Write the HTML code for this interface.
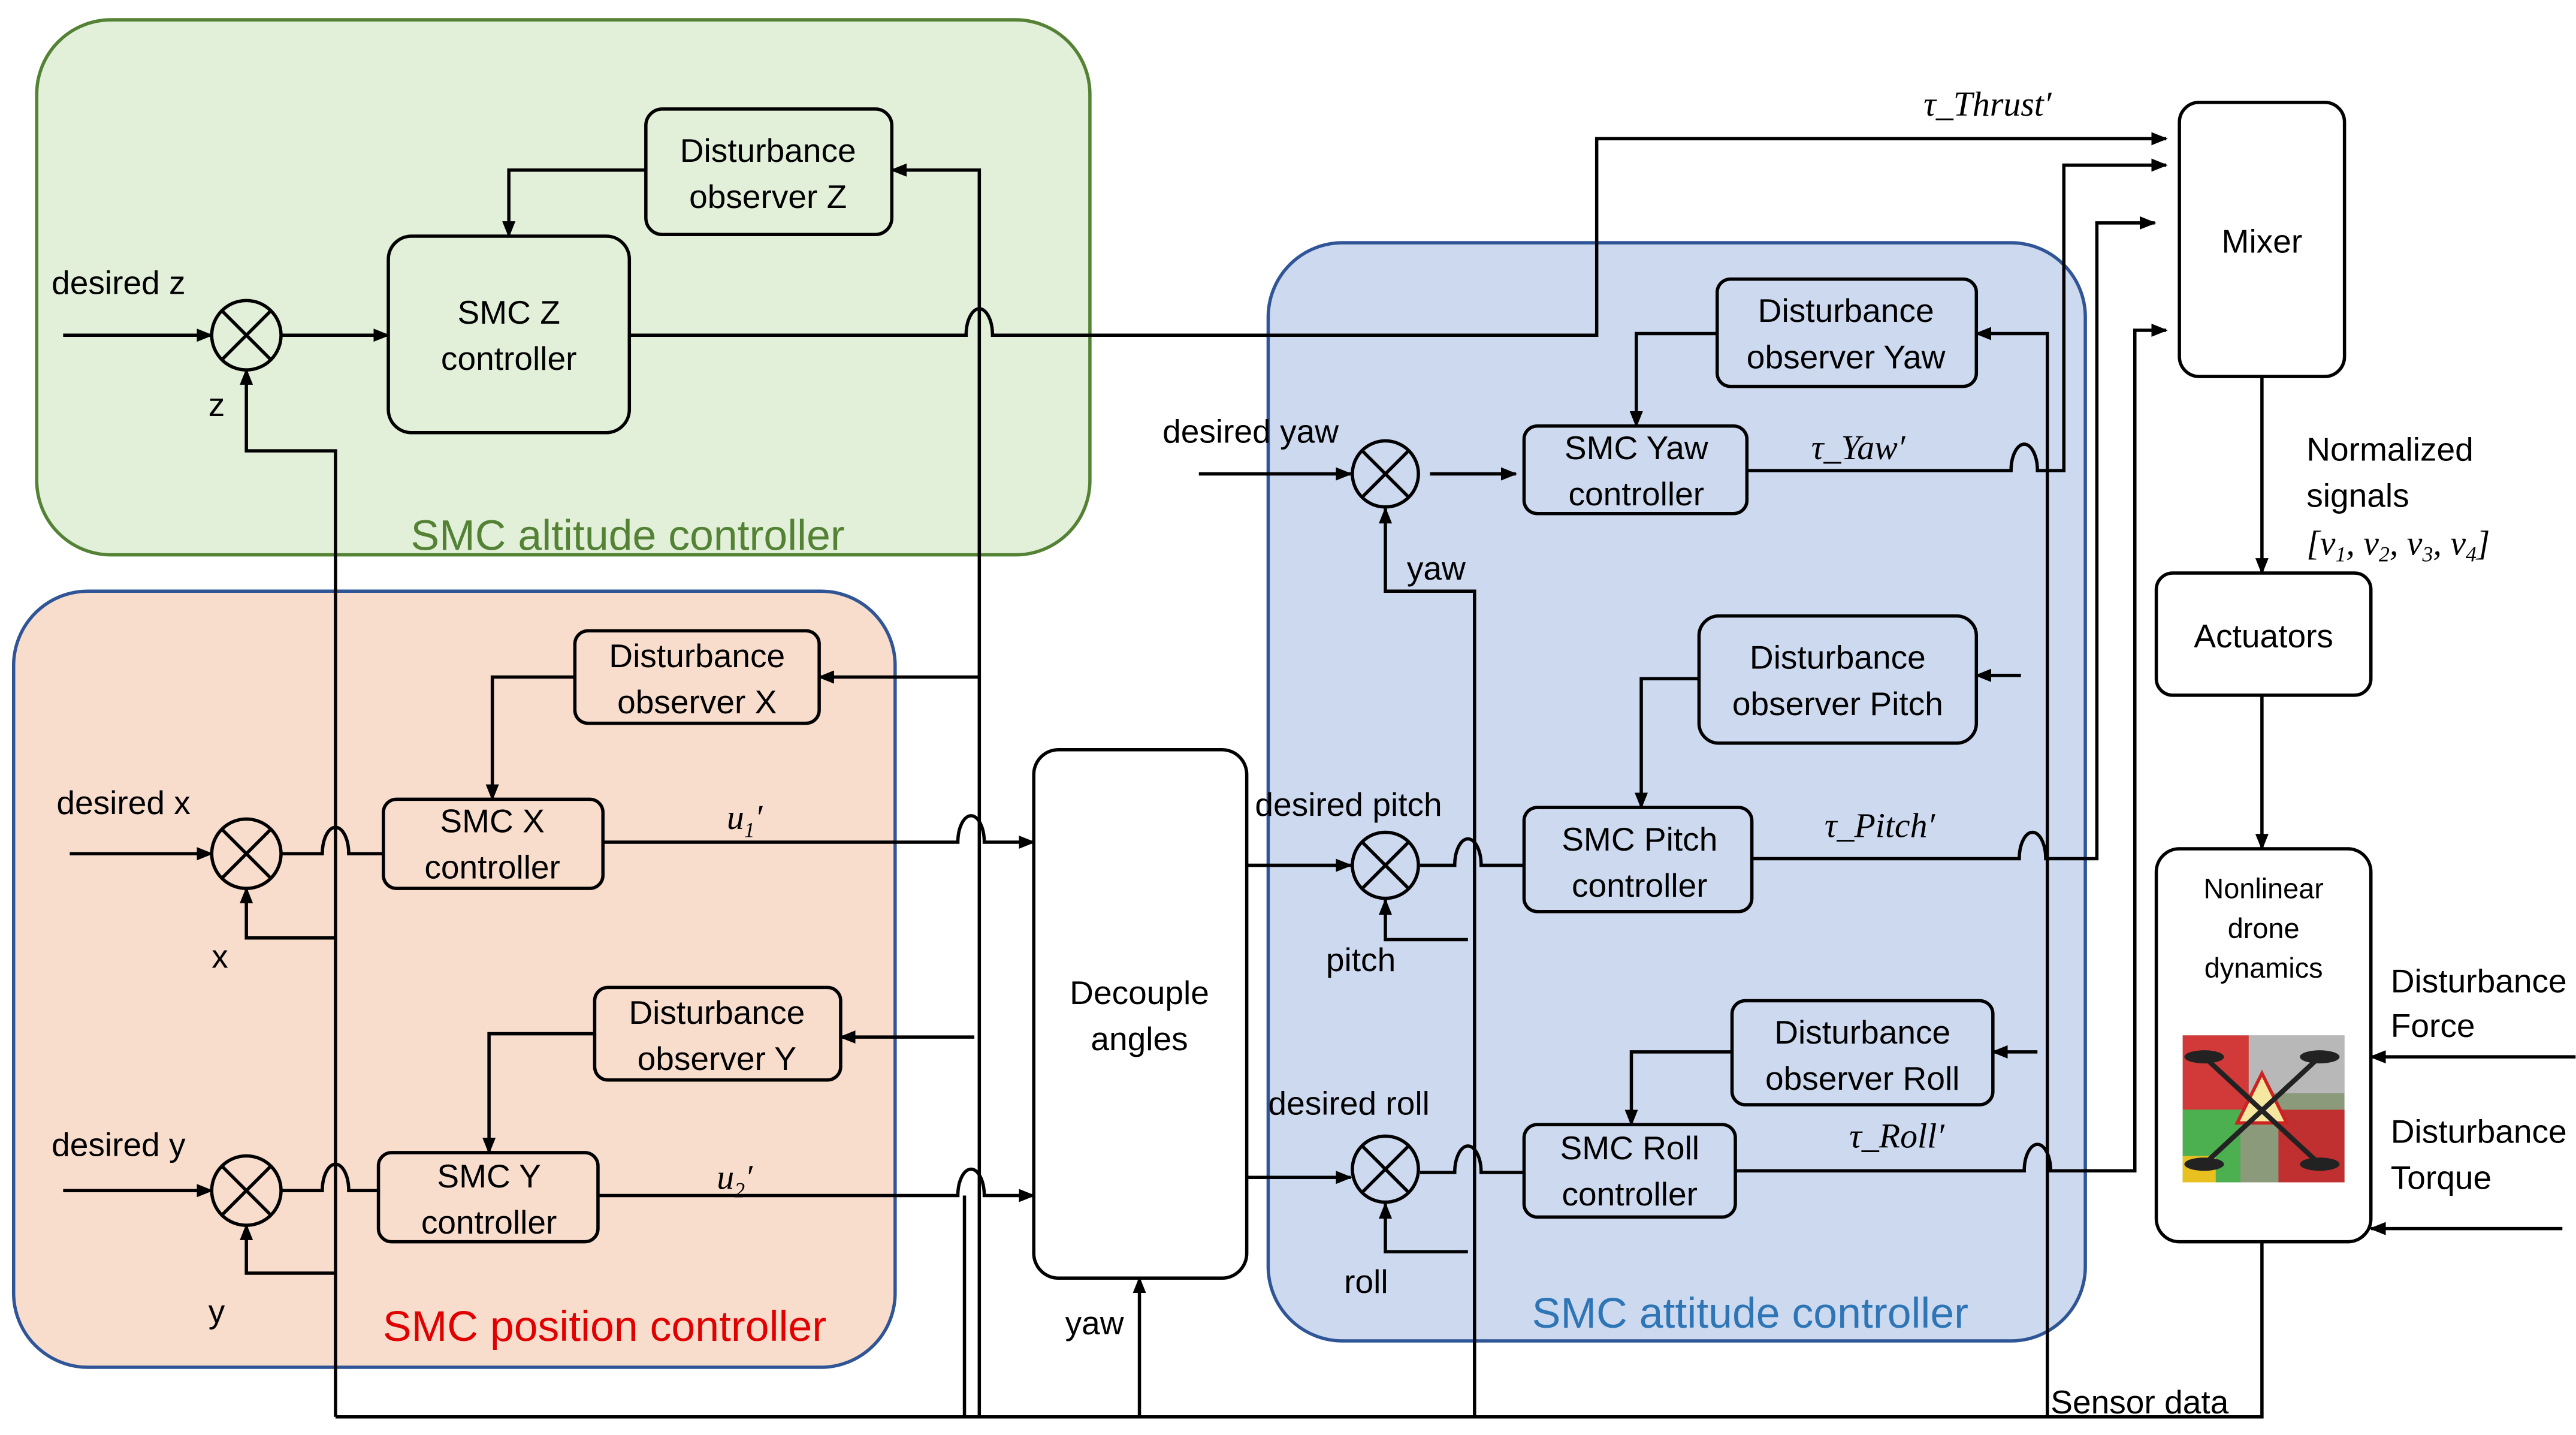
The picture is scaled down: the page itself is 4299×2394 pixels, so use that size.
<!DOCTYPE html>
<html><head><meta charset="utf-8"><style>
html,body{margin:0;padding:0;background:#fff;}
svg{display:block;}
text{font-family:"Liberation Sans","DejaVu Sans",sans-serif;fill:#000;}
.b{font-size:20px;text-anchor:middle;}
.l{font-size:20px;}
.m{font-family:"Liberation Serif",serif;font-style:italic;font-size:21px;}
</style></head><body>
<svg width="4299" height="2394" viewBox="0 0 1560 869" xmlns="http://www.w3.org/2000/svg">
<defs><marker id="a" markerWidth="10" markerHeight="10" refX="9" refY="5" orient="auto" markerUnits="userSpaceOnUse"><path d="M0,1 L10,5 L0,9 z" fill="#000"/></marker></defs>
<rect x="22" y="12" width="638" height="324" rx="45" fill="#e2efd9" stroke="#548235" stroke-width="2"/>
<rect x="8" y="358" width="534" height="470" rx="45" fill="#f8dccc" stroke="#2f5597" stroke-width="2"/>
<rect x="768" y="147" width="495" height="665" rx="45" fill="#cdd9ef" stroke="#2f5597" stroke-width="2"/>
<text x="380" y="333" font-size="26" text-anchor="middle" style="fill:#548235">SMC altitude controller</text>
<text x="366" y="812" font-size="26" text-anchor="middle" style="fill:#e00000">SMC position controller</text>
<text x="1060" y="804" font-size="26" text-anchor="middle" style="fill:#2e75b6">SMC attitude controller</text>
<g fill="none" stroke="#000" stroke-width="2">
<rect x="391" y="66" width="149" height="76" rx="10"/>
<rect x="235" y="143" width="146" height="119" rx="14"/>
<rect x="348" y="382" width="148" height="56" rx="8"/>
<rect x="232" y="484" width="133" height="54" rx="8"/>
<rect x="360" y="598" width="149" height="56" rx="8"/>
<rect x="229" y="698" width="133" height="54" rx="8"/>
<rect x="626" y="454" width="129" height="320" rx="15" fill="#fff"/>
<rect x="1040" y="169" width="157" height="65" rx="8"/>
<rect x="923" y="258" width="135" height="53" rx="8"/>
<rect x="1029" y="373" width="168" height="77" rx="12"/>
<rect x="923" y="489" width="138" height="63" rx="8"/>
<rect x="1049" y="606" width="158" height="63" rx="8"/>
<rect x="923" y="681" width="128" height="56" rx="8"/>
<rect x="1320" y="62" width="100" height="166" rx="12" fill="#fff"/>
<rect x="1306" y="347" width="130" height="74" rx="10" fill="#fff"/>
<rect x="1306" y="514" width="130" height="238" rx="14" fill="#fff"/>
<circle cx="149" cy="203" r="21"/><path d="M134,188 L164,218 M164,188 L134,218"/>
<circle cx="149" cy="517" r="21"/><path d="M134,502 L164,532 M164,502 L134,532"/>
<circle cx="149" cy="721" r="21"/><path d="M134,706 L164,736 M164,706 L134,736"/>
<circle cx="839" cy="287" r="20"/><path d="M825,273 L853,301 M853,273 L825,301"/>
<circle cx="839" cy="524" r="20"/><path d="M825,510 L853,538 M853,510 L825,538"/>
<circle cx="839" cy="708" r="20"/><path d="M825,694 L853,722 M853,694 L825,722"/>
<path d="M38,203 L128,203" marker-end="url(#a)"/>
<path d="M170,203 L235,203" marker-end="url(#a)"/>
<path d="M391,103 L308,103 L308,143" marker-end="url(#a)"/>
<path d="M381,203 L585,203 A8,16 0 0 1 601,203 L967,203 L967,84 L1312,84" marker-end="url(#a)"/>
<path d="M593,858 L593,103 L540,103" marker-end="url(#a)"/>
<path d="M203,858 L203,273 L149,273 L149,224" marker-end="url(#a)"/>
<path d="M203,858 L1370,858 L1370,752"/>
<path d="M593,410 L496,410" marker-end="url(#a)"/>
<path d="M348,410 L298,410 L298,484" marker-end="url(#a)"/>
<path d="M42,517 L128,517" marker-end="url(#a)"/>
<path d="M170,517 L195,517 A8,16 0 0 1 211,517 L232,517"/>
<path d="M203,568 L149,568 L149,538" marker-end="url(#a)"/>
<path d="M365,510 L580,510 A8,16 0 0 1 596,510 L626,510" marker-end="url(#a)"/>
<path d="M590,628 L509,628" marker-end="url(#a)"/>
<path d="M360,626 L296,626 L296,698" marker-end="url(#a)"/>
<path d="M38,721 L128,721" marker-end="url(#a)"/>
<path d="M170,721 L195,721 A8,16 0 0 1 211,721 L229,721"/>
<path d="M203,771 L149,771 L149,742" marker-end="url(#a)"/>
<path d="M362,724 L580,724 A8,16 0 0 1 596,724 L626,724" marker-end="url(#a)"/>
<path d="M584,724 L584,858"/>
<path d="M690,858 L690,774" marker-end="url(#a)"/>
<path d="M1040,202 L991,202 L991,258" marker-end="url(#a)"/>
<path d="M726,287 L818,287" marker-end="url(#a)"/>
<path d="M866,287 L918,287" marker-end="url(#a)"/>
<path d="M893,858 L893,358 L839,358 L839,308" marker-end="url(#a)"/>
<path d="M1058,285 L1218,285 A8,16 0 0 1 1234,285 L1250,285 L1250,100 L1312,100" marker-end="url(#a)"/>
<path d="M1240,858 L1240,202 L1197,202" marker-end="url(#a)"/>
<path d="M1029,411 L994,411 L994,489" marker-end="url(#a)"/>
<path d="M1224,409 L1197,409" marker-end="url(#a)"/>
<path d="M755,524 L818,524" marker-end="url(#a)"/>
<path d="M860,524 L881,524 A8,16 0 0 1 897,524 L923,524"/>
<path d="M889,569 L839,569 L839,545" marker-end="url(#a)"/>
<path d="M1061,520 L1223,520 A8,16 0 0 1 1239,520 L1270,520 L1270,135 L1305,135" marker-end="url(#a)"/>
<path d="M1049,637 L988,637 L988,681" marker-end="url(#a)"/>
<path d="M1234,637 L1207,637" marker-end="url(#a)"/>
<path d="M755,713 L818,713" marker-end="url(#a)"/>
<path d="M860,710 L881,710 A8,16 0 0 1 897,710 L923,710"/>
<path d="M889,758 L839,758 L839,729" marker-end="url(#a)"/>
<path d="M1051,709 L1226,709 A8,16 0 0 1 1242,709 L1293,709 L1293,200 L1312,200" marker-end="url(#a)"/>
<path d="M1370,228 L1370,347" marker-end="url(#a)"/>
<path d="M1370,421 L1370,514" marker-end="url(#a)"/>
<path d="M1560,640 L1436,640" marker-end="url(#a)"/>
<path d="M1552,744 L1436,744" marker-end="url(#a)"/>
</g>
<rect x="1322" y="627" width="98" height="89" fill="#8a9a7a"/>
<rect x="1322" y="627" width="40" height="45" fill="#d23a3a"/>
<rect x="1362" y="627" width="58" height="35" fill="#b8b8b8"/>
<rect x="1322" y="672" width="35" height="44" fill="#4caf50"/>
<rect x="1380" y="672" width="40" height="44" fill="#c03030"/>
<rect x="1322" y="700" width="20" height="16" fill="#e8c020"/>
<polygon points="1370,650 1385,680 1355,680" fill="#f5e6a0" stroke="#c22" stroke-width="2"/>
<g stroke="#222" stroke-width="3"><line x1="1335" y1="640" x2="1405" y2="705"/><line x1="1405" y1="640" x2="1335" y2="705"/></g>
<g fill="#222"><ellipse cx="1335" cy="640" rx="12" ry="4"/><ellipse cx="1405" cy="640" rx="12" ry="4"/><ellipse cx="1335" cy="705" rx="12" ry="4"/><ellipse cx="1405" cy="705" rx="12" ry="4"/></g>
<text class="b" x="465" y="98">Disturbance</text><text class="b" x="465" y="126">observer Z</text>
<text class="b" x="308" y="196">SMC Z</text><text class="b" x="308" y="224">controller</text>
<text class="b" x="422" y="404">Disturbance</text><text class="b" x="422" y="432">observer X</text>
<text class="b" x="298" y="504">SMC X</text><text class="b" x="298" y="532">controller</text>
<text class="b" x="434" y="620">Disturbance</text><text class="b" x="434" y="648">observer Y</text>
<text class="b" x="296" y="719">SMC Y</text><text class="b" x="296" y="747">controller</text>
<text class="b" x="690" y="608">Decouple</text><text class="b" x="690" y="636">angles</text>
<text class="b" x="1118" y="195">Disturbance</text><text class="b" x="1118" y="223">observer Yaw</text>
<text class="b" x="991" y="278">SMC Yaw</text><text class="b" x="991" y="306">controller</text>
<text class="b" x="1113" y="405">Disturbance</text><text class="b" x="1113" y="433">observer Pitch</text>
<text class="b" x="993" y="515">SMC Pitch</text><text class="b" x="993" y="543">controller</text>
<text class="b" x="1128" y="632">Disturbance</text><text class="b" x="1128" y="660">observer Roll</text>
<text class="b" x="987" y="702">SMC Roll</text><text class="b" x="987" y="730">controller</text>
<text class="b" x="1370" y="153">Mixer</text>
<text class="b" x="1371" y="392">Actuators</text>
<text class="b" x="1371" y="544" style="font-size:17px">Nonlinear</text>
<text class="b" x="1371" y="568" style="font-size:17px">drone</text>
<text class="b" x="1371" y="592" style="font-size:17px">dynamics</text>
<text class="l" x="31" y="178">desired z</text>
<text class="l" x="126" y="252">z</text>
<text class="l" x="34" y="493">desired x</text>
<text class="l" x="128" y="586">x</text>
<text class="l" x="31" y="700">desired y</text>
<text class="l" x="126" y="801">y</text>
<text class="l" x="645" y="808">yaw</text>
<text class="l" x="704" y="268">desired yaw</text>
<text class="l" x="852" y="351">yaw</text>
<text class="l" x="760" y="494">desired pitch</text>
<text class="l" x="803" y="588">pitch</text>
<text class="l" x="768" y="675">desired roll</text>
<text class="l" x="814" y="783">roll</text>
<text class="l" x="1242" y="856">Sensor data</text>
<text class="l" x="1397" y="279">Normalized</text>
<text class="l" x="1397" y="307">signals</text>
<text class="m" x="1397" y="336">[<tspan>v</tspan><tspan font-size="13" dy="4">1</tspan><tspan dy="-4">, v</tspan><tspan font-size="13" dy="4">2</tspan><tspan dy="-4">, v</tspan><tspan font-size="13" dy="4">3</tspan><tspan dy="-4">, v</tspan><tspan font-size="13" dy="4">4</tspan><tspan dy="-4">]</tspan></text>
<text class="l" x="1448" y="601">Disturbance</text><text class="l" x="1448" y="628">Force</text>
<text class="l" x="1448" y="692">Disturbance</text><text class="l" x="1448" y="720">Torque</text>
<text class="m" x="1165" y="70">τ_Thrust′</text>
<text class="m" x="1097" y="278">τ_Yaw′</text>
<text class="m" x="1105" y="507">τ_Pitch′</text>
<text class="m" x="1120" y="695">τ_Roll′</text>
<text class="m" x="440" y="502">u<tspan font-size="13" dy="5">1</tspan><tspan dy="-5">′</tspan></text>
<text class="m" x="434" y="720">u<tspan font-size="13" dy="5">2</tspan><tspan dy="-5">′</tspan></text>
</svg>
</body></html>
